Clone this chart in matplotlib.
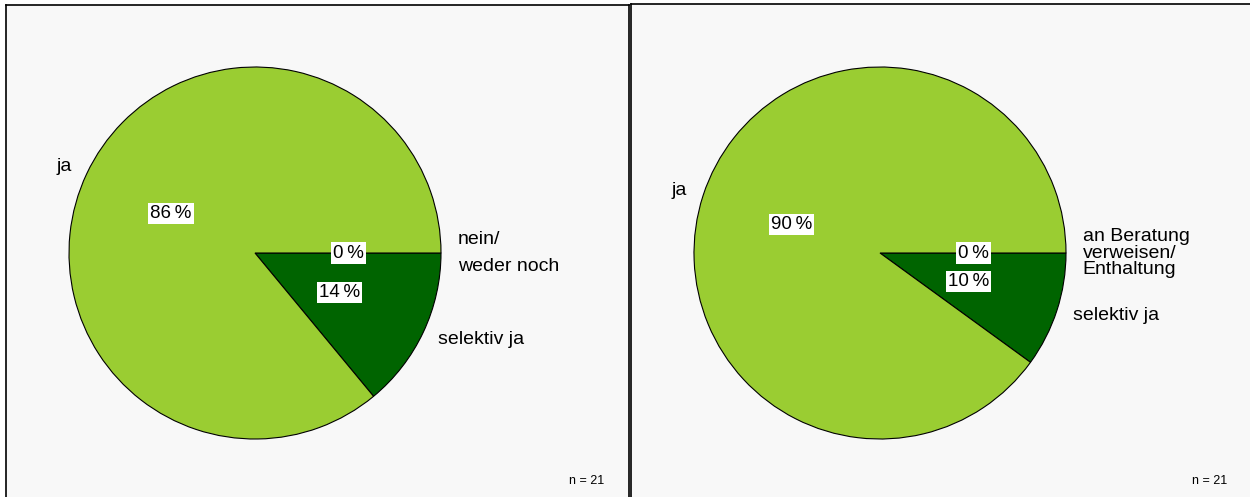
import matplotlib.pyplot as plt

plt.rcParams['font.family'] = ['Liberation Sans', 'DejaVu Sans']

# survey answers, n = 21 per question
left_labels = ["nein/\nweder noch", "selektiv ja", "ja"]
left_values = [0, 14, 86]
right_labels = ["an Beratung\nverweisen/\nEnthaltung", "selektiv ja", "ja"]
right_values = [0, 10, 90]
n_total = 21

colors = ["#9acd32", "#006400", "#9acd32"]

W, H = 1250, 497
fig = plt.figure(figsize=(W / 100, H / 100), dpi=100)
fig.patch.set_facecolor("white")


def panel(x0, x1, top):
    ax = fig.add_axes([x0 / W, 0, (x1 - x0) / W, (H - top) / H])
    ax.set_facecolor("#f8f8f8")
    ax.set_xticks([])
    ax.set_yticks([])
    for s in ax.spines.values():
        s.set_linewidth(1.2)
    ax.spines["bottom"].set_visible(False)
    return ax


def draw_pie(cx, cy, r, values, labels, linespacing, ldist):
    ax = fig.add_axes([(cx - r) / W, (H - cy - r) / H, 2 * r / W, 2 * r / H])
    ax.axis("off")
    wedges, texts, autotexts = ax.pie(
        values, labels=labels, colors=colors, startangle=0, counterclock=False,
        labeldistance=ldist, pctdistance=0.5,
        autopct=lambda p: f"{p:.0f}\u2009%",
        wedgeprops=dict(edgecolor="black", linewidth=0.8),
        textprops=dict(fontsize=14))
    for t in texts:
        t.set_linespacing(linespacing)
    for t in autotexts:
        t.set_fontsize(13.5)
        t.set_bbox(dict(facecolor="white", edgecolor="none", pad=1.5))
    ax.set_xlim(-1, 1)
    ax.set_ylim(-1, 1)
    return ax


p1 = panel(6, 629, 5)
p2 = panel(631, 1252, 4)
for p in (p1, p2):
    p.text(0.96, 0.02, f"n = {n_total}", transform=p.transAxes,
           ha="right", va="bottom", fontsize=9)

draw_pie(255, 253, 186, left_values, left_labels, 1.75, 1.09)
draw_pie(880, 253, 186, right_values, right_labels, 0.95, 1.09)

fig.savefig("out.png", dpi=100)
